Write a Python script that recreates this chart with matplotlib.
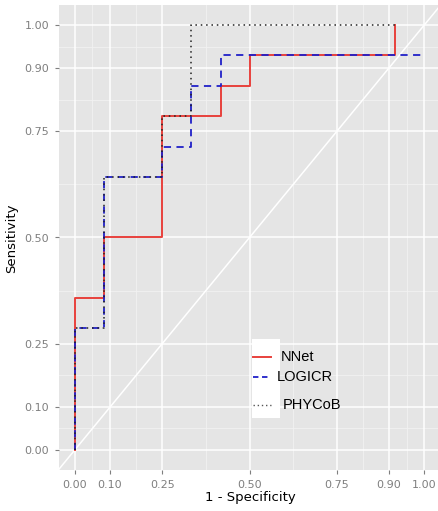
import matplotlib
matplotlib.use("Agg")
import matplotlib.pyplot as plt
import numpy as np

# Data (1 - specificity, sensitivity) step curves
nnet_fpr = [0.0, 0.0, 0.083, 0.083, 0.25, 0.25, 0.417, 0.417, 0.5, 0.5, 0.917, 0.917]
nnet_tpr = [0.0, 0.357, 0.357, 0.5, 0.5, 0.786, 0.786, 0.857, 0.857, 0.929, 0.929, 1.0]

logicr_fpr = [0.0, 0.0, 0.083, 0.083, 0.25, 0.25, 0.333, 0.333, 0.417, 0.417, 1.0]
logicr_tpr = [0.0, 0.286, 0.286, 0.643, 0.643, 0.714, 0.714, 0.857, 0.857, 0.929, 0.929]

phycob_fpr = [0.0, 0.0, 0.083, 0.083, 0.25, 0.25, 0.333, 0.333, 0.917]
phycob_tpr = [0.0, 0.286, 0.286, 0.643, 0.643, 0.786, 0.786, 1.0, 1.0]

tick_vals = [0.0, 0.10, 0.25, 0.50, 0.75, 0.90, 1.00]
tick_labels = ["0.00", "0.10", "0.25", "0.50", "0.75", "0.90", "1.00"]
series_names = ["NNet", "LOGICR", "PHYCoB"]

W, H = 439, 511
fig = plt.figure(figsize=(W / 100, H / 100), dpi=100)
fig.patch.set_facecolor("white")

x0, x1 = 59, 439
y0, y1 = 5, 470
ax = fig.add_axes([x0 / W, 1 - y1 / H, (x1 - x0) / W, (y1 - y0) / H])
ax.set_facecolor("#E5E5E5")
for s in ax.spines.values():
    s.set_visible(False)

ax.set_xlim(-0.046, 1.043)
ax.set_ylim(-0.048, 1.048)

# grid
minor = [(a + b) / 2 for a, b in zip(tick_vals[:-1], tick_vals[1:])]
for v in minor:
    ax.axvline(v, color="#F2F2F2", lw=0.6, zorder=0)
    ax.axhline(v, color="#F2F2F2", lw=0.6, zorder=0)
for v in tick_vals:
    ax.axvline(v, color="white", lw=1.1, zorder=0.5)
    ax.axhline(v, color="white", lw=1.1, zorder=0.5)

# diagonal
ax.plot([-0.1, 1.1], [-0.1, 1.1], color="white", lw=1.1, zorder=0.6)

ax.plot(nnet_fpr, nnet_tpr, color="#E8413C", lw=1.4, zorder=2)
ax.plot(logicr_fpr, logicr_tpr, color="#2020C8", lw=1.3, ls=(0, (4, 3)), zorder=3)
ax.plot(phycob_fpr, phycob_tpr, color="#222222", lw=1.1, ls=(0, (1, 2.5)), zorder=4)

ax.set_xticks(tick_vals)
ax.set_xticklabels(tick_labels)
ax.set_yticks(tick_vals)
ax.set_yticklabels(tick_labels)
ax.tick_params(axis="both", colors="#7F7F7F", labelsize=8, length=3, width=0.8)
ax.tick_params(axis="x", pad=4)
ax.tick_params(axis="y", pad=4)

fig.text(250 / W, 1 - 498 / H, "1 - Specificity", ha="center", va="center", fontsize=9.5, color="black")
fig.text(12 / W, 1 - 238 / H, "Sensitivity", ha="center", va="center", rotation=90, fontsize=9.5, color="black")

# legend (manual, like pasted annotation)
lx0, lx1 = 252, 280
ly0, ly1 = 339, 418
inv = ax.transData.inverted()
def d(px, py):
    return inv.transform(fig.transFigure.transform((px / W, 1 - py / H)))
p0 = d(lx0, ly1)
p1 = d(lx1, ly0)
ax.add_patch(plt.Rectangle(p0, p1[0] - p0[0], p1[1] - p0[1], facecolor="white", edgecolor="none", zorder=5))
keys = [(357, "#E8413C", "-", 1.4, 281), (377, "#2020C8", (0, (3, 2)), 1.3, 277), (405, "#555555", (0, (1, 2)), 1.0, 283)]
for (py, col, ls, lw, tx), name in zip(keys, series_names):
    a = d(253, py)
    b = d(271, py)
    ax.plot([a[0], b[0]], [a[1], b[1]], color=col, ls=ls, lw=lw, zorder=6)
    fig.text(tx / W, 1 - py / H, name, ha="left", va="center", fontsize=10.5,
             family="Liberation Sans", color="black", zorder=7)

fig.savefig("out.png", dpi=100)
